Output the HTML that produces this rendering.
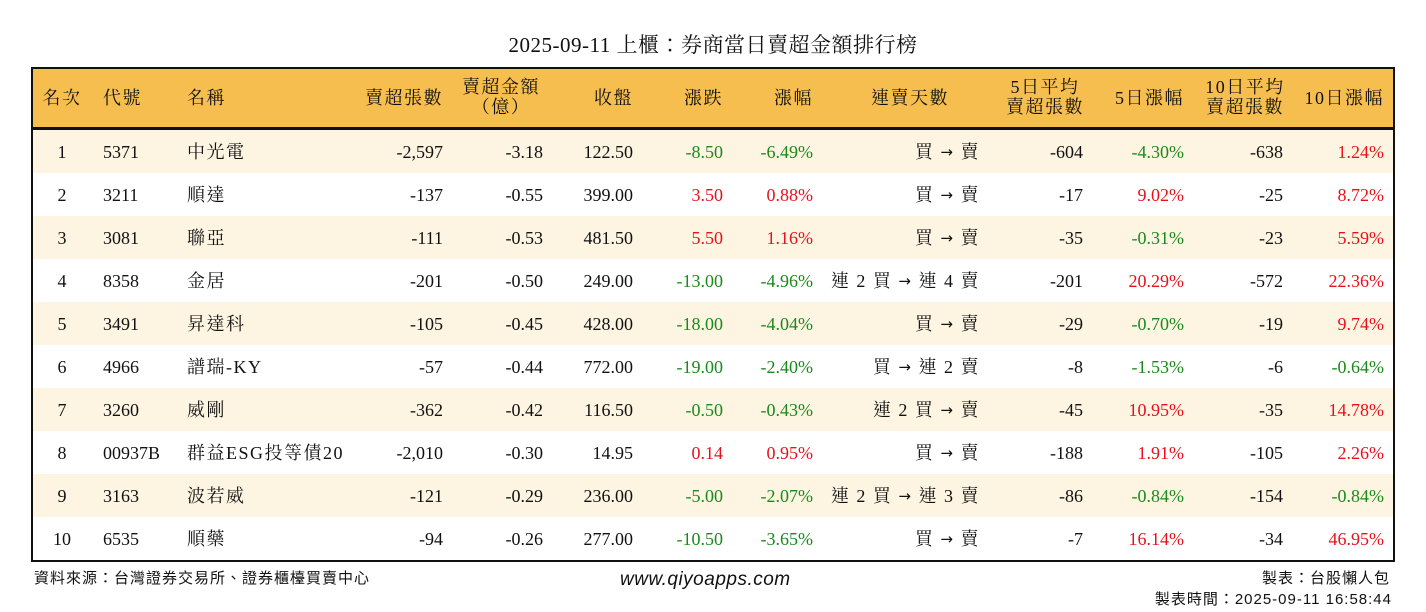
<!DOCTYPE html>
<html><head><meta charset="utf-8">
<style>
body{margin:0;width:1426px;height:612px;background:#fff;position:relative;overflow:hidden;font-family:"Liberation Serif","Noto Serif CJK TC","Noto Serif CJK SC",serif;color:#111}
.a{position:absolute;white-space:nowrap;font-size:18px;line-height:20px}
.h{letter-spacing:1.5px}
#title{position:absolute;left:0;width:1426px;top:29px;text-align:center;font-size:21px;letter-spacing:0.5px}
#box{position:absolute;left:31px;top:67px;width:1360px;height:491px;border:2px solid #111}
#head{position:absolute;left:33px;top:69px;width:1360px;height:58px;background:#F6BE4F;border-bottom:3px solid #111}
.row{position:absolute;left:33px;width:1360px;height:43px}
.g{color:#1a8a1a}.r{color:#e8111b}
.ar{font-family:"DejaVu Sans",sans-serif;font-size:15px;position:relative;top:-1px}
.foot{position:absolute;font-family:"Liberation Sans","Noto Sans CJK TC",sans-serif;font-size:15px;white-space:nowrap;letter-spacing:1px}
</style></head><body>
<div id="title">2025-09-11 上櫃：券商當日賣超金額排行榜</div>
<div id="head"></div>
<div id="box"></div>
<div class="foot" style="left:34px;top:567px">資料來源：台灣證券交易所、證券櫃檯買賣中心</div>
<div class="foot" style="left:620px;top:569px;font-style:italic;font-size:19px;letter-spacing:0.5px">www.qiyoapps.com</div>
<div class="foot" style="right:36px;top:567px">製表：台股懶人包</div>
<div class="foot" style="right:34px;top:588px">製表時間：2025-09-11 16:58:44</div>
<script>
const ranks=[1,2,3,4,5,6,7,8,9,10];
const codes=["5371","3211","3081","8358","3491","4966","3260","00937B","3163","6535"];
const names=["中光電","順達","聯亞","金居","昇達科","譜瑞-KY","威剛","群益ESG投等債20","波若威","順藥"];
const netSell=["-2,597","-137","-111","-201","-105","-57","-362","-2,010","-121","-94"];
const amount=["-3.18","-0.55","-0.53","-0.50","-0.45","-0.44","-0.42","-0.30","-0.29","-0.26"];
const close=["122.50","399.00","481.50","249.00","428.00","772.00","116.50","14.95","236.00","277.00"];
const change=["-8.50","3.50","5.50","-13.00","-18.00","-19.00","-0.50","0.14","-5.00","-10.50"];
const pct=["-6.49%","0.88%","1.16%","-4.96%","-4.04%","-2.40%","-0.43%","0.95%","-2.07%","-3.65%"];
const streak=["買 → 賣","買 → 賣","買 → 賣","連 2 買 → 連 4 賣","買 → 賣","買 → 連 2 賣","連 2 買 → 賣","買 → 賣","連 2 買 → 連 3 賣","買 → 賣"];
const avg5=["-604","-17","-35","-201","-29","-8","-45","-188","-86","-7"];
const pct5=["-4.30%","9.02%","-0.31%","20.29%","-0.70%","-1.53%","10.95%","1.91%","-0.84%","16.14%"];
const avg10=["-638","-25","-23","-572","-19","-6","-35","-105","-154","-34"];
const pct10=["1.24%","8.72%","5.59%","22.36%","9.74%","-0.64%","14.78%","2.26%","-0.84%","46.95%"];
function t(txt,x,y,align,cls,name){
 const d=document.createElement('div');
 
 
 d.className='a '+(cls||'');d.textContent=txt;d.style.top=y+'px';
 if(align==='r'){d.style.right=(1426-x)+'px';}
 else if(align==='c'){d.style.left=(x-100)+'px';d.style.width='200px';d.style.textAlign='center';}
 else d.style.left=x+'px';
 document.body.appendChild(d);return d;
}
function col(v){return v.trim().startsWith('-')?'g':'r';}
t('名次',62,88,'c','h','header-rank');
t('代號',103,88,'l','h','header-code');
t('名稱',187,88,'l','h','header-name');
t('賣超張數',443,88,'r','h','header-net-sell');
t('賣超金額',501,77,'c','h','header-amount');
t('（億）',501,97,'c','h','header-amount-unit');
t('收盤',633,88,'r','h','header-close');
t('漲跌',723,88,'r','h','header-change');
t('漲幅',813,88,'r','h','header-pct');
t('連賣天數',910,88,'c','h','header-streak');
t('5日平均',1045,77,'c','h','header-avg5');
t('賣超張數',1045,97,'c','h','header-avg5-2');
t('5日漲幅',1184,88,'r','h','header-pct5');
t('10日平均',1245,77,'c','h','header-avg10');
t('賣超張數',1245,97,'c','h','header-avg10-2');
t('10日漲幅',1384,88,'r','h','header-pct10');
for(let i=0;i<ranks.length;i++){
 const top=130+i*43;
 const row=document.createElement('div');
 
 
 row.className='row';row.style.top=top+'px';row.style.background=i%2===0?'#FDF4E2':'#fff';
 if(i===9)row.style.height='40px';
 document.body.appendChild(row);
 const y=top+12;
 t(String(ranks[i]),62,y,'c','','rank');
 t(codes[i],103,y,'l','','code');
 t(names[i],187,y,'l','h','name');
 t(netSell[i],443,y,'r','','net-sell');
 t(amount[i],543,y,'r','','amount');
 t(close[i],633,y,'r','','close');
 t(change[i],723,y,'r',col(change[i]),'change');
 t(pct[i],813,y,'r',col(pct[i]),'pct');
 const s=t('',980,y,'r','h','streak');
 const parts=streak[i].split('→');
 s.appendChild(document.createTextNode(parts[0]));
 const ar=document.createElement('span');ar.className='ar';ar.textContent='→';
 
 
 s.appendChild(ar);
 s.appendChild(document.createTextNode(parts[1]));
 t(avg5[i],1083,y,'r','','avg5');
 t(pct5[i],1184,y,'r',col(pct5[i]),'pct5');
 t(avg10[i],1283,y,'r','','avg10');
 t(pct10[i],1384,y,'r',col(pct10[i]),'pct10');
}
</script>
</body></html>
